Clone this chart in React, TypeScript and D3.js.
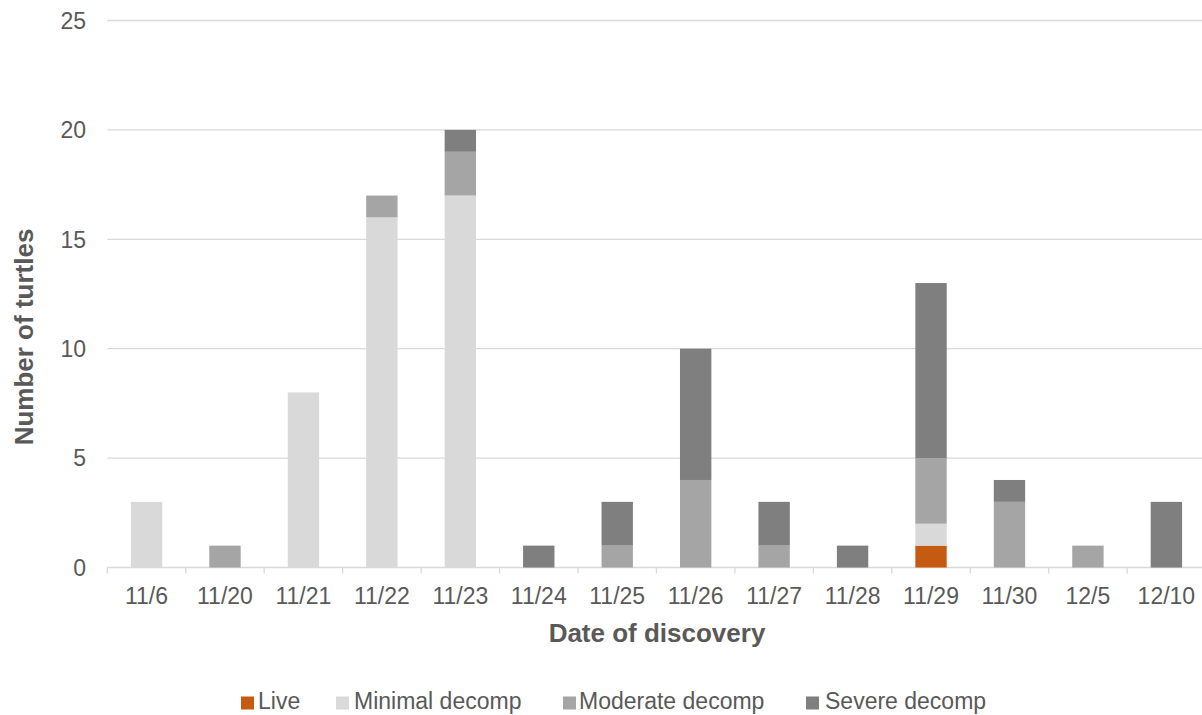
import React, { useEffect, useRef } from "react";
import * as d3 from "d3";

const categories = ["11/6", "11/20", "11/21", "11/22", "11/23", "11/24", "11/25", "11/26", "11/27", "11/28", "11/29", "11/30", "12/5", "12/10"];
const live = [0, 0, 0, 0, 0, 0, 0, 0, 0, 0, 1, 0, 0, 0];
const minimal = [3, 0, 8, 16, 17, 0, 0, 0, 0, 0, 1, 0, 0, 0];
const moderate = [0, 1, 0, 1, 2, 0, 1, 4, 1, 0, 3, 3, 1, 0];
const severe = [0, 0, 0, 0, 1, 1, 2, 6, 2, 1, 8, 1, 0, 3];
const seriesNames = ["Live", "Minimal decomp", "Moderate decomp", "Severe decomp"];
const seriesColors = ["#C55A11", "#D9D9D9", "#A5A5A5", "#7F7F7F"];
const yTicks = [0, 5, 10, 15, 20, 25];

export default function App() {
  const ref = useRef<SVGSVGElement>(null);
  useEffect(() => {
    const svg = d3.select(ref.current);
    svg.selectAll("*").remove();
    const font = "'Liberation Sans', Arial, sans-serif";
    const textColor = "#595959";
    const x0 = 107.3, x1 = 1205.6, yTop = 20.5, yBot = 567.5;

    const x = d3.scaleBand<string>().domain(categories).range([x0, x1]).paddingInner(0.6).paddingOuter(0.3);
    const step = x.step();
    const y = d3.scaleLinear().domain([0, 25]).range([yBot, yTop]);

    // gridlines
    svg.append("g").selectAll("line").data(yTicks).join("line")
      .attr("x1", x0).attr("x2", x1)
      .attr("y1", d => y(d)).attr("y2", d => y(d))
      .attr("stroke", "#D9D9D9").attr("stroke-width", 1.3);

    // y tick labels
    svg.append("g").selectAll("text").data(yTicks).join("text")
      .attr("x", 86).attr("y", d => y(d) + 8.2)
      .attr("text-anchor", "end").attr("font-family", font).attr("font-size", 23)
      .attr("fill", textColor).text(d => String(d));

    // stacked bars
    const rows = categories.map((c, i) => ({ cat: c, s0: live[i], s1: minimal[i], s2: moderate[i], s3: severe[i] }));
    const stack = d3.stack<any>().keys(["s0", "s1", "s2", "s3"]);
    const stacked = stack(rows);
    stacked.forEach((layer, k) => {
      svg.append("g").selectAll("rect").data(layer).join("rect")
        .attr("x", d => x(d.data.cat)!)
        .attr("width", x.bandwidth())
        .attr("y", d => y(d[1]))
        .attr("height", d => y(d[0]) - y(d[1]))
        .attr("fill", seriesColors[k]);
    });

    // x axis tick marks
    const tickPos = d3.range(categories.length + 1).map(i => x0 + i * step);
    svg.append("g").selectAll("line").data(tickPos).join("line")
      .attr("x1", d => d).attr("x2", d => d)
      .attr("y1", yBot).attr("y2", yBot + 6)
      .attr("stroke", "#D9D9D9").attr("stroke-width", 1.3);

    // x labels
    svg.append("g").selectAll("text").data(categories).join("text")
      .attr("x", d => x(d)! + x.bandwidth() / 2).attr("y", 604)
      .attr("text-anchor", "middle").attr("font-family", font).attr("font-size", 23)
      .attr("fill", textColor).text(d => d);

    // axis titles
    svg.append("text").attr("x", 657).attr("y", 641.5)
      .attr("text-anchor", "middle").attr("font-family", font).attr("font-size", 26)
      .attr("font-weight", "bold").attr("fill", textColor).text("Date of discovery");
    svg.append("text").attr("transform", "translate(32.5,337) rotate(-90)")
      .attr("text-anchor", "middle").attr("font-family", font).attr("font-size", 26)
      .attr("font-weight", "bold").attr("fill", textColor).text("Number of turtles");

    // legend
    const legendSquareX = [241, 336, 563, 806];
    const legendTextX = [258, 354, 579, 825];
    seriesNames.forEach((name, i) => {
      const g = svg.append("g");
      g.append("rect").attr("x", legendSquareX[i]).attr("y", 696.5).attr("width", 13).attr("height", 13).attr("fill", seriesColors[i]);
      g.append("text").attr("x", legendTextX[i]).attr("y", 709)
        .attr("font-family", font).attr("font-size", 23).attr("fill", textColor).text(name);
    });
  }, []);
  return (
    <svg ref={ref} width={1202} height={715} style={{ position: "absolute", left: 0, top: 0, background: "#fff" }} />
  );
}
